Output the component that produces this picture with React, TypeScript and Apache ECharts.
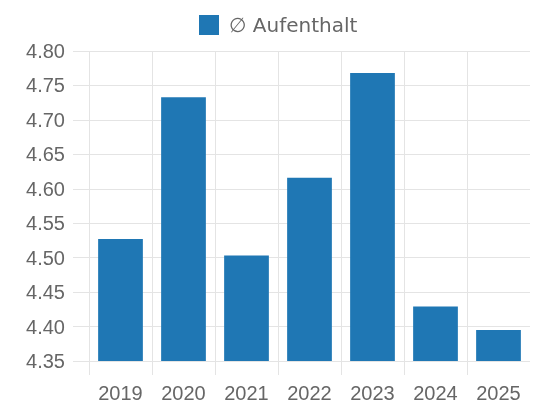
import React, { useEffect, useRef } from "react";
import * as echarts from "echarts";

const categories = ["2019", "2020", "2021", "2022", "2023", "2024", "2025"];
const values = [4.527, 4.733, 4.503, 4.616, 4.768, 4.429, 4.395];
const seriesName = "∅ Aufenthalt";
const yMin = 4.35;
const yMax = 4.8;
const yStep = 0.05;

export default function App() {
  const ref = useRef<HTMLDivElement>(null);
  useEffect(() => {
    if (!ref.current) return;
    const chart = echarts.init(ref.current, null, { renderer: "svg" });
    const font = "'Liberation Sans', Arial, Helvetica, sans-serif";
    const gridColor = "#e4e4e4";
    const vColors = categories.map(() => gridColor).concat(["rgba(0,0,0,0)"]);
    chart.setOption({
      animation: false,
      textStyle: { fontFamily: font },
      legend: {
        left: 194,
        top: 10,
        icon: "rect",
        itemWidth: 20,
        itemHeight: 20,
        itemGap: 10,
        textStyle: {
          fontSize: 20,
          color: "#666",
          fontFamily: "'DejaVu Sans', sans-serif",
          padding: [0, 0, 0, 5],
        },
        data: [seriesName],
      },
      grid: [
        { left: 89, right: 3, top: 51, bottom: 47, containLabel: false },
        { left: 89, right: 3, top: 51, bottom: 33, containLabel: false },
        { left: 73, right: 3, top: 51, bottom: 47, containLabel: false },
      ],
      xAxis: [
        {
          type: "category",
          gridIndex: 0,
          data: categories,
          boundaryGap: true,
          axisLine: { show: false },
          axisTick: { show: false },
          splitLine: { show: false },
          axisLabel: { fontSize: 20, color: "#666", margin: 22, fontFamily: font },
        },
        {
          type: "category",
          gridIndex: 1,
          data: categories,
          boundaryGap: true,
          axisLine: { show: false },
          axisTick: { show: false },
          axisLabel: { show: false },
          splitLine: { show: true, lineStyle: { color: vColors } },
        },
        {
          type: "value",
          gridIndex: 2,
          show: false,
          min: 0,
          max: 1,
        },
      ],
      yAxis: [
        {
          type: "value",
          gridIndex: 0,
          min: yMin,
          max: yMax,
          interval: yStep,
          axisLine: { show: false },
          axisTick: { show: false },
          splitLine: { show: false },
          axisLabel: {
            fontSize: 20,
            color: "#666",
            margin: 24,
            fontFamily: font,
            formatter: (v: number) => v.toFixed(2),
          },
        },
        {
          type: "value",
          gridIndex: 1,
          show: false,
          min: 0,
          max: 1,
        },
        {
          type: "value",
          gridIndex: 2,
          min: yMin,
          max: yMax,
          interval: yStep,
          axisLine: { show: false },
          axisTick: { show: false },
          axisLabel: { show: false },
          splitLine: { show: true, lineStyle: { color: gridColor } },
        },
      ],
      series: [
        {
          name: seriesName,
          type: "bar",
          xAxisIndex: 0,
          yAxisIndex: 0,
          data: values,
          barCategoryGap: "29%",
          itemStyle: { color: "#1f77b4" },
          z: 5,
        },
      ],
    });
    return () => chart.dispose();
  }, []);
  return (
    <div
      ref={ref}
      style={{ position: "fixed", left: 0, top: 0, width: 533, height: 408 }}
    />
  );
}
